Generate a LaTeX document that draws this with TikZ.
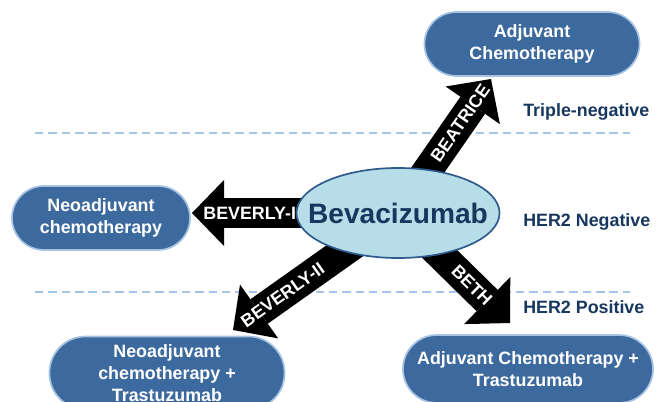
\documentclass[tikz,border=0pt]{standalone}
\usepackage{fontspec}
\setmainfont{Liberation Sans}
\usepackage{tikz}
\usetikzlibrary{arrows.meta,shapes.geometric,backgrounds}
\definecolor{BVBox}{HTML}{3D6A9E}
\definecolor{BVGlow}{HTML}{A7C3E3}
\definecolor{BVCore}{HTML}{B7DEE8}
\definecolor{BVEdge}{HTML}{2E5A8E}
\definecolor{BVNavy}{HTML}{17375E}
\definecolor{BVDash}{HTML}{A3C6E8}

\begin{document}
\begin{tikzpicture}[x=0.025cm,y=-0.025cm,
  txt/.style={font=\fontsize{12.7}{15.5}\selectfont\bfseries},
  trial/.style={txt,draw=BVGlow,line width=1.2pt,fill=BVBox,text=white,rounded corners=0.8cm,align=center,minimum height=1.6cm,inner sep=0pt},
  fatarrow/.style={line width=0.75cm,black,-{Triangle[width=1.65cm,length=0.8cm,line width=0pt]}},
  armlabel/.style={txt,text=white,sloped},
  subtype/.style={txt,text=BVNavy,anchor=west,inner sep=0pt},
  cutline/.style={BVDash,line width=1.1pt,dash pattern=on 6pt off 3.5pt}]
\path[use as bounding box] (0,0) rectangle (663,401);
% treatment boxes
\node[trial,minimum width=5.375cm] (adj) at (532,44) {Adjuvant\\Chemotherapy};
\node[trial,minimum width=4.45cm] (neo) at (101,218) {Neoadjuvant\\chemotherapy};
\node[trial,minimum width=5.875cm,minimum height=1.825cm,rounded corners=0.9cm] (neotr) at (167,373) {Neoadjuvant\\chemotherapy +\\Trastuzumab};
\node[trial,minimum width=6.25cm,minimum height=1.7cm,rounded corners=0.85cm] (adjtr) at (528,369) {Adjuvant Chemotherapy +\\Trastuzumab};
\node[ellipse,draw=BVEdge,line width=1.2pt,fill=BVCore,minimum width=5.075cm,minimum height=2.25cm,inner sep=0pt,
  label={[text=BVNavy,font=\fontsize{20}{24}\selectfont\bfseries]center:Bevacizumab}] (bev) at (398,213) {};
% subtypes
\node[subtype] (tn) at (523,112) {Triple-negative};
\node[subtype] (hneg) at (523,222) {HER2 Negative};
\node[subtype] (hpos) at (523,307) {HER2 Positive};
% arrow ends
\coordinate (tipA) at (491,79);
\coordinate (tipB) at (192,213);
\coordinate (tipC) at (233,330);
\coordinate (tipD) at (510,323);
\begin{pgfonlayer}{background}
\draw[cutline] (35,133) -- (630,133);
\draw[cutline] (35,292) -- (630,292);
\draw[fatarrow] (bev.center) -- node[armlabel,pos=.67] {BEATRICE} (tipA);
\draw[fatarrow] (bev.center) -- node[armlabel,pos=.72] {BEVERLY-I} (tipB);
\draw[fatarrow] (bev.center) -- node[armlabel,pos=.70] {BEVERLY-II} (tipC);
\draw[fatarrow] (bev.center) -- node[armlabel,pos=.66] {BETH} (tipD);
\end{pgfonlayer}
\end{tikzpicture}
\end{document}
